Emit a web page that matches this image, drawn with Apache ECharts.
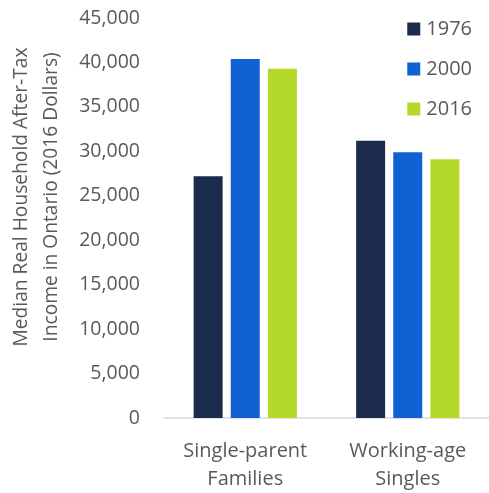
<!DOCTYPE html>
<html>
<head>
<meta charset="utf-8">
<script src="https://cdn.jsdelivr.net/npm/echarts@6/dist/echarts.min.js"></script>
<style>
  html, body { margin: 0; padding: 0; background: #fff; }
  #chart { width: 489px; height: 493px; }
</style>
</head>
<body>
<div id="chart"></div>
<script>
// Household groups on the x axis
const categories = ['Single-parent\nFamilies', 'Working-age\nSingles'];
// Median real after-tax income (2016 dollars) by year
const years = ['1976', '2000', '2016'];
const values1976 = [27200, 31200];
const values2000 = [40400, 29900];
const values2016 = [39300, 29100];
const yTicks = { min: 0, max: 45000, interval: 5000 };

const colors = ['#1b2b4b', '#1161d5', '#b4d92a'];
const font = '"Open Sans", "Noto Sans", sans-serif';
const textColor = '#595959';

const chart = echarts.init(document.getElementById('chart'), null, { renderer: 'canvas' });

const seriesData = [values1976, values2000, values2016];

chart.setOption({
  animation: false,
  color: colors,
  grid: { left: 164, right: -5, top: 18, bottom: 73.5, containLabel: false },
  legend: {
    orient: 'vertical',
    right: 12,
    top: 14,
    itemWidth: 13,
    itemHeight: 13,
    itemGap: 20,
    icon: 'rect',
    textStyle: { fontFamily: font, fontSize: 20, color: textColor, padding: [0, 0, 0, 1] },
    data: years
  },
  xAxis: {
    type: 'category',
    data: categories,
    axisLine: { lineStyle: { color: '#d9d9d9', width: 1.5 } },
    axisTick: { show: false },
    axisLabel: {
      fontFamily: font, fontSize: 20, color: textColor,
      lineHeight: 28, margin: 19, interval: 0
    }
  },
  yAxis: {
    type: 'value',
    min: yTicks.min,
    max: yTicks.max,
    interval: yTicks.interval,
    splitLine: { show: false },
    axisLine: { show: false },
    axisTick: { show: false },
    axisLabel: {
      fontFamily: font, fontSize: 19.5, color: textColor, margin: 24,
      formatter: v => v.toLocaleString('en-US')
    }
  },
  graphic: [{
    type: 'text',
    x: 37,
    y: 197,
    rotation: Math.PI / 2,
    style: {
      text: 'Median Real Household After-Tax\nIncome in Ontario (2016 Dollars)',
      font: '19.2px ' + font,
      fill: textColor,
      align: 'center',
      verticalAlign: 'middle',
      lineHeight: 30
    }
  }],
  series: years.map((y, i) => ({
    name: y,
    type: 'bar',
    data: seriesData[i],
    barWidth: 29,
    barGap: '28%'
  }))
});
</script>
</body>
</html>
